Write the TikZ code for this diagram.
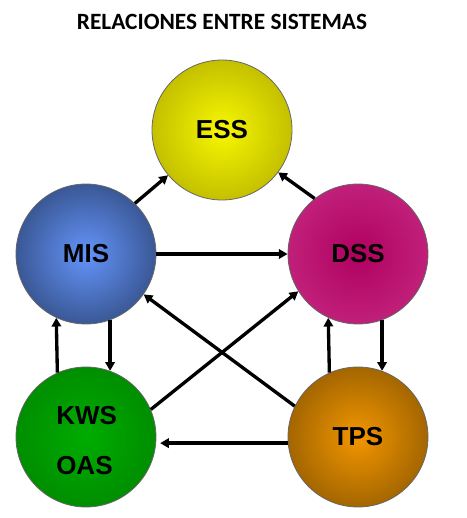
\documentclass[tikz,border=0pt]{standalone}
\usepackage{fontspec}
\setmainfont{Liberation Sans}
\newfontfamily\titlefont{Carlito}
\usetikzlibrary{arrows.meta}
\definecolor{essin}{HTML}{F7F700}
\definecolor{essout}{HTML}{C4C000}
\definecolor{misin}{HTML}{6494FA}
\definecolor{misout}{HTML}{3A5896}
\definecolor{dssin}{HTML}{B00060}
\definecolor{dssout}{HTML}{C0207A}
\definecolor{kwsin}{HTML}{00AC00}
\definecolor{kwsout}{HTML}{008E00}
\definecolor{tpsin}{HTML}{F29600}
\definecolor{tpsout}{HTML}{A46600}
\tikzset{
  sys/.style={circle, minimum size=105pt, inner sep=0pt, draw=black!60, line width=0.6pt,
    font=\fontsize{19.5pt}{22pt}\selectfont\bfseries},
  arr/.style={line width=2.5pt, -{Triangle[length=6.5pt,width=7pt]}},
  lbl/.style={font=\fontsize{19.5pt}{22pt}\selectfont\bfseries, inner sep=0pt, anchor=west},
}
\begin{document}
\begin{tikzpicture}[x=0.75pt,y=-0.75pt]
\useasboundingbox (0,0) rectangle (467,518);
\node[font=\titlefont\fontsize{17.5pt}{20pt}\selectfont\bfseries] (title) at (222,22) {RELACIONES ENTRE SISTEMAS};
\node[sys, inner color=essin, outer color=essout] (ESS) at (222,130) {ESS};
\node[sys, inner color=misin, outer color=misout] (MIS) at (86,254) {MIS};
\node[sys, inner color=dssin, outer color=dssout] (DSS) at (358,254) {DSS};
\node[sys, inner color=kwsin, outer color=kwsout] (KWS) at (86,437) {};
\node[sys, inner color=tpsin, outer color=tpsout] (TPS) at (358,437) {TPS};
\node[lbl] (kwst) at (56,416) {KWS};
\node[lbl] (oast) at (56,466) {OAS};
\draw[arr] (MIS.46) -- (ESS.220);
\draw[arr] (DSS.128) -- (ESS.-37);
\draw[arr] (MIS) -- (DSS);
\draw[arr] (TPS.154) -- (MIS.-35);
\draw[arr] (KWS.23) -- (DSS.212);
\draw[arr, shorten >=3pt] (TPS.185) -- (KWS.-5);
\draw[arr] (KWS.114.5) -- (MIS.245.5);
\draw[arr] (MIS.290) -- (KWS.70);
\draw[arr] (TPS.114.5) -- (DSS.245.5);
\draw[arr] (DSS.290) -- (TPS.70);
\end{tikzpicture}
\end{document}
